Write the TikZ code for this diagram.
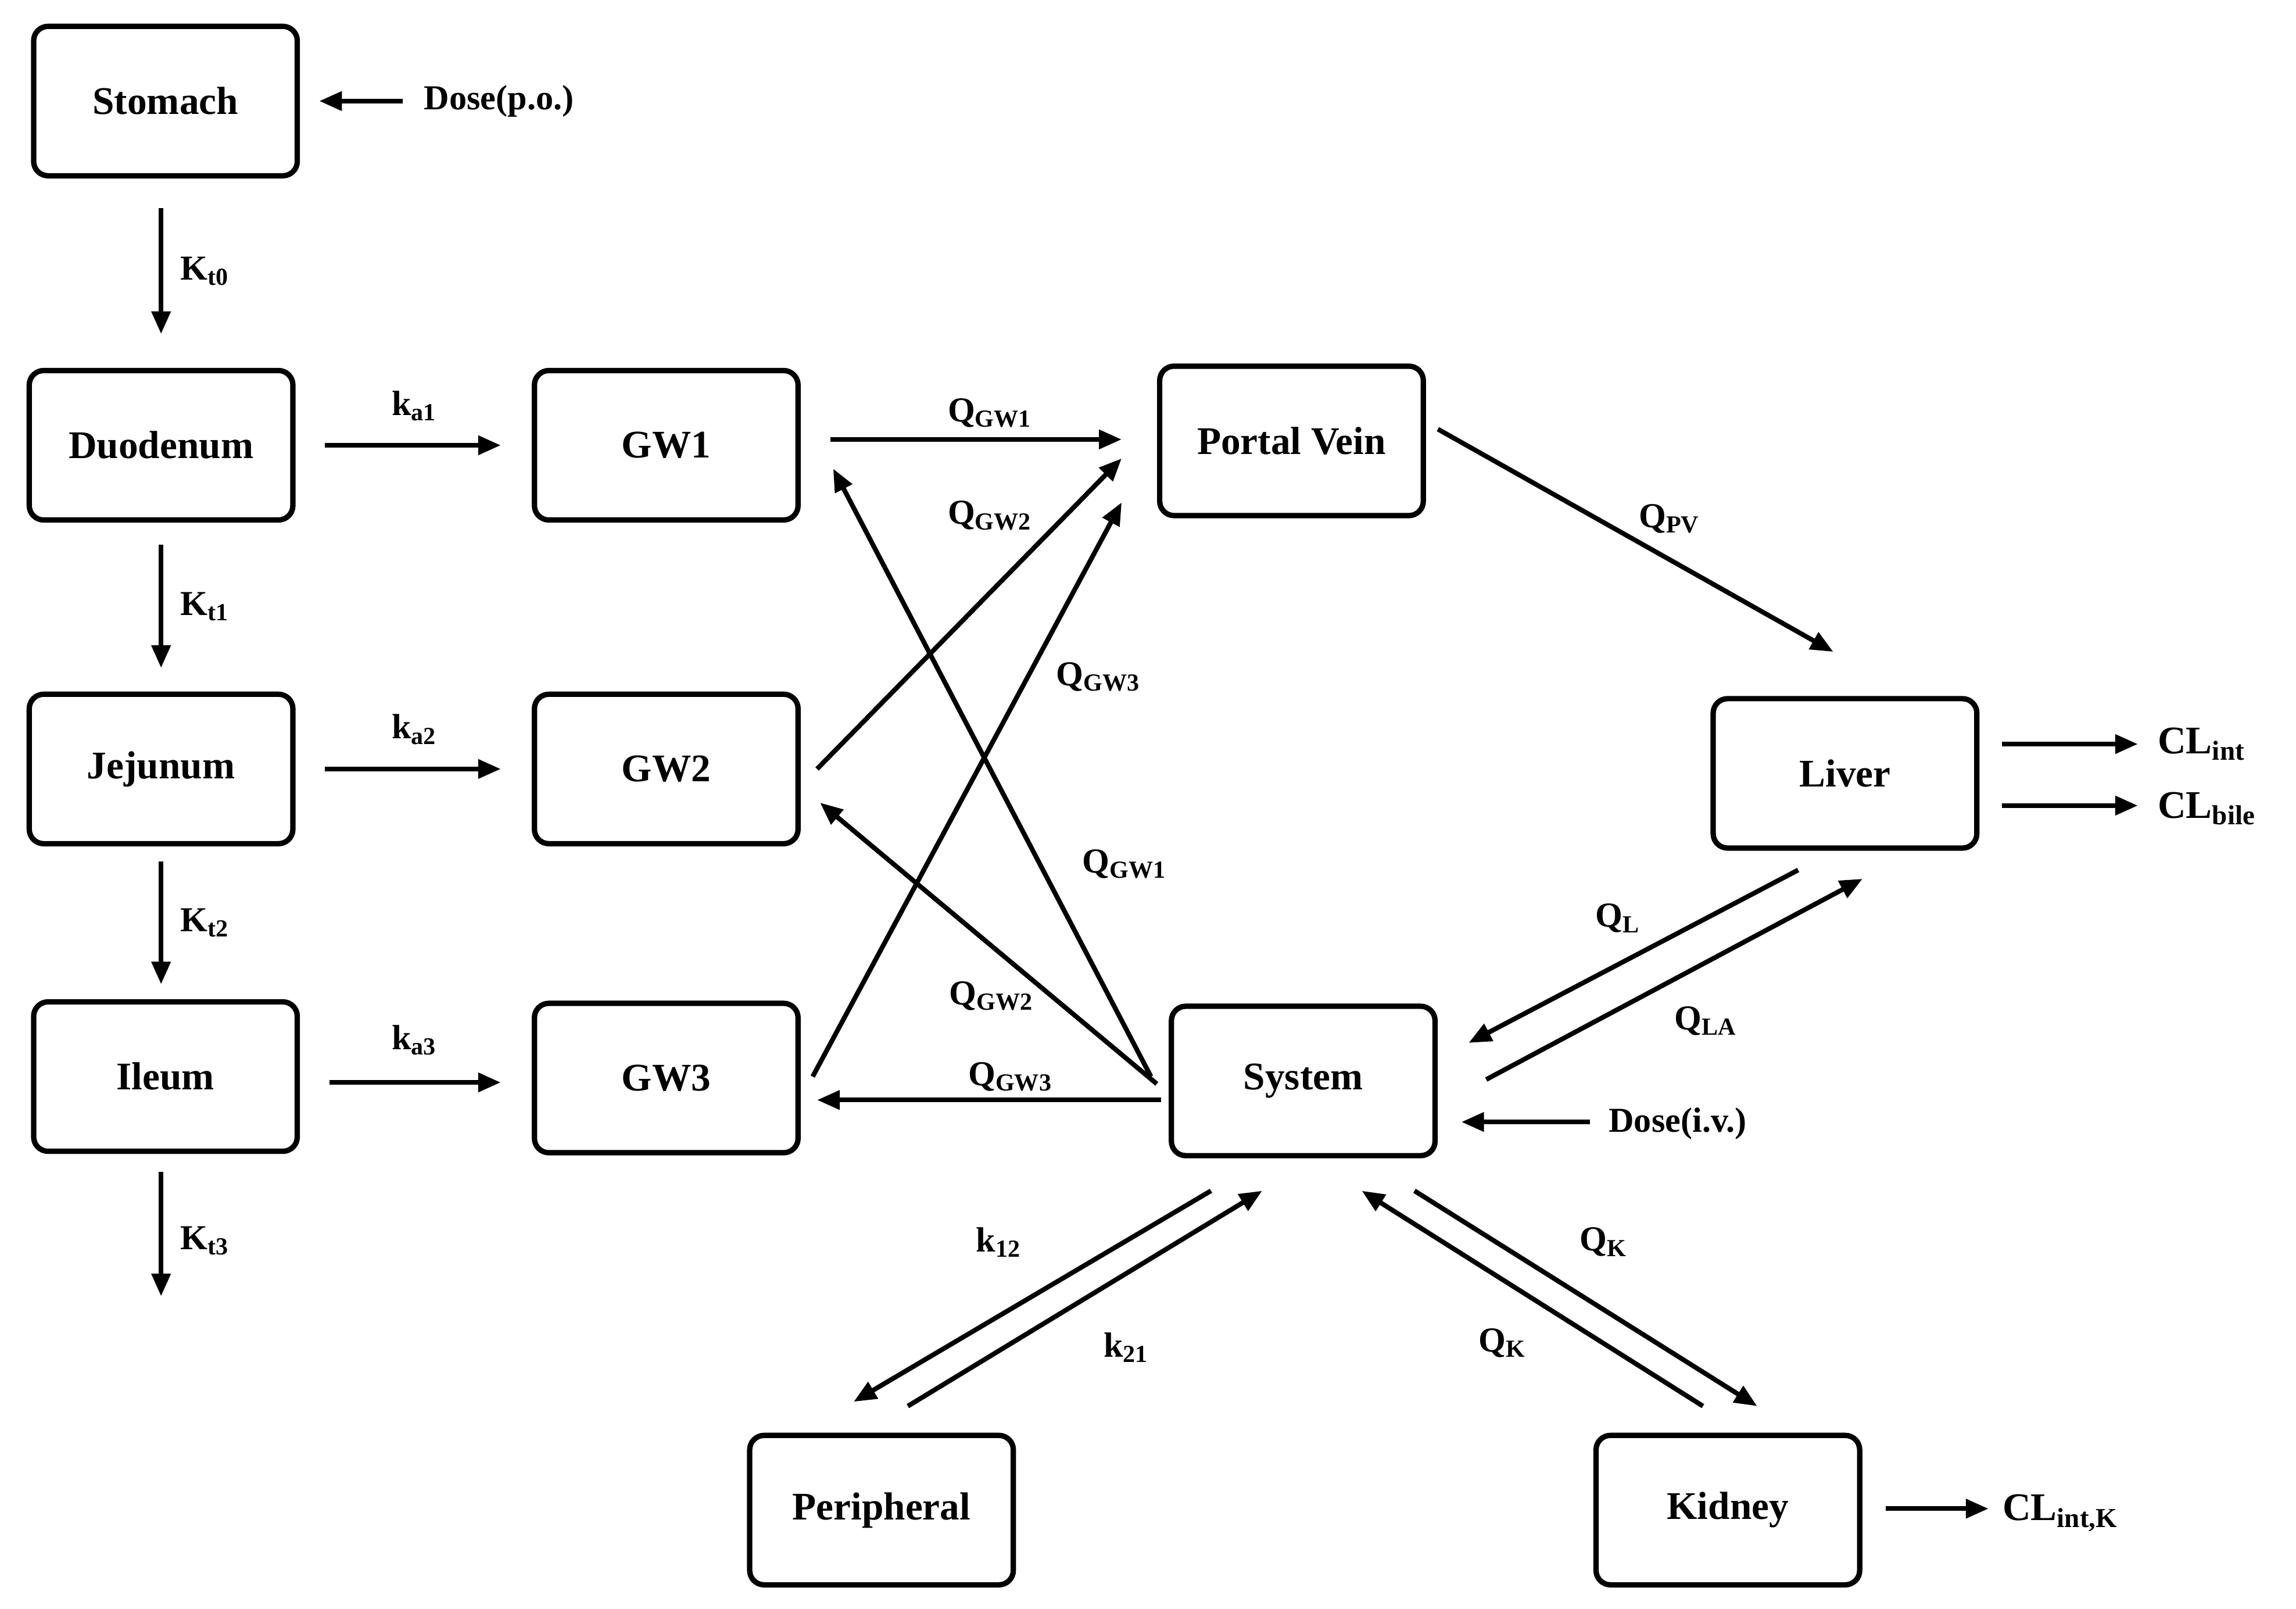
\documentclass[tikz,border=0pt]{standalone}
\usepackage{fontspec}
\setmainfont{Liberation Serif}
\usetikzlibrary{arrows.meta}
\begin{document}
\begin{tikzpicture}[x=0.025cm,y=-0.025cm,
  box/.style={draw,line width=2.6pt,rounded corners=7pt,minimum width=4.5cm,minimum height=2.55cm,font=\fontsize{19}{22}\selectfont\bfseries,inner sep=0pt},
  arr/.style={line width=2.3pt,-{Triangle[length=11pt,width=9pt]}},
  lab/.style={font=\fontsize{17}{20}\selectfont\bfseries,inner sep=1pt}]
\useasboundingbox (0,0) rectangle (1568,1098.5);
\node[box] (stomach) at (113,69) {Stomach};
\node[box] (duo) at (110,304) {Duodenum};
\node[box] (jej) at (110,525) {Jejunum};
\node[box] (ile) at (113,735) {Ileum};
\node[box] (gw1) at (455,304) {GW1};
\node[box] (gw2) at (455,525) {GW2};
\node[box] (gw3) at (455,736) {GW3};
\node[box] (pv) at (882,301) {Portal Vein};
\node[box] (liver) at (1260,528) {Liver};
\node[box] (sys) at (890,738) {System};
\node[box] (per) at (602,1031) {Peripheral};
\node[box] (kid) at (1180,1031) {Kidney};
% free coordinates
\foreach \n/\x/\y in {a1/275/69,a2/218/69, b1/110/142,b2/110/228, c1/222/304,c2/342/304, d1/110/372,d2/110/456,
 e1/222/525,e2/342/525, f1/110/588,f2/110/672, g1/225/739,g2/342/739, h1/110/800,h2/110/885,
 i1/567/300,i2/766/300, j1/558/525,j2/766/313, k1/555/735,k2/766/343, l1/786/735,l2/569/320,
 m1/790/740,m2/560/548, n1/793/751,n2/558/751, o1/982/293,o2/1252/445, p1/1367/508,p2/1460/508,
 q1/1367/550,q2/1460/550, r1/1228/594,r2/1003/712, s1/1015/737,s2/1272/600, t1/1086/766,t2/998/766,
 u1/827/813,u2/583/957, v1/620/960,v2/862/813, w1/966/813,w2/1200/960, z1/1163/960,z2/930/813,
 y1/1288/1030,y2/1358/1030}
 {\coordinate (\n) at (\x,\y);}
\foreach \s in {a,b,c,d,e,f,g,h,i,j,k,l,m,n,o,p,q,r,s,t,u,v,w,z,y}
 {\draw[arr] (\s1) -- (\s2);}
\node[lab,anchor=west] at (288,69) {Dose(p.o.)};
\node[lab] at (140,185) {K\textsubscript{t0}};
\node[lab] at (283,277) {k\textsubscript{a1}};
\node[lab] at (140,414) {K\textsubscript{t1}};
\node[lab] at (283,498) {k\textsubscript{a2}};
\node[lab] at (140,630) {K\textsubscript{t2}};
\node[lab] at (283,710) {k\textsubscript{a3}};
\node[lab] at (140,847) {K\textsubscript{t3}};
\node[lab] at (676,282) {Q\textsubscript{GW1}};
\node[lab] at (676,352) {Q\textsubscript{GW2}};
\node[lab] at (750,462) {Q\textsubscript{GW3}};
\node[lab] at (768,590) {Q\textsubscript{GW1}};
\node[lab] at (677,680) {Q\textsubscript{GW2}};
\node[lab] at (690,735) {Q\textsubscript{GW3}};
\node[lab] at (1140,354) {Q\textsubscript{PV}};
\node[lab,anchor=west,font=\fontsize{19}{22}\selectfont\bfseries] at (1472,508) {CL\textsubscript{int}};
\node[lab,anchor=west,font=\fontsize{19}{22}\selectfont\bfseries] at (1472,552) {CL\textsubscript{bile}};
\node[lab] at (1105,627) {Q\textsubscript{L}};
\node[lab] at (1165,697) {Q\textsubscript{LA}};
\node[lab,anchor=west] at (1097,767) {Dose(i.v.)};
\node[lab] at (682,848) {k\textsubscript{12}};
\node[lab] at (769,920) {k\textsubscript{21}};
\node[lab] at (1095,848) {Q\textsubscript{K}};
\node[lab] at (1026,917) {Q\textsubscript{K}};
\node[lab,anchor=west,font=\fontsize{19}{22}\selectfont\bfseries] at (1366,1033) {CL\textsubscript{int,K}};
\end{tikzpicture}
\end{document}
